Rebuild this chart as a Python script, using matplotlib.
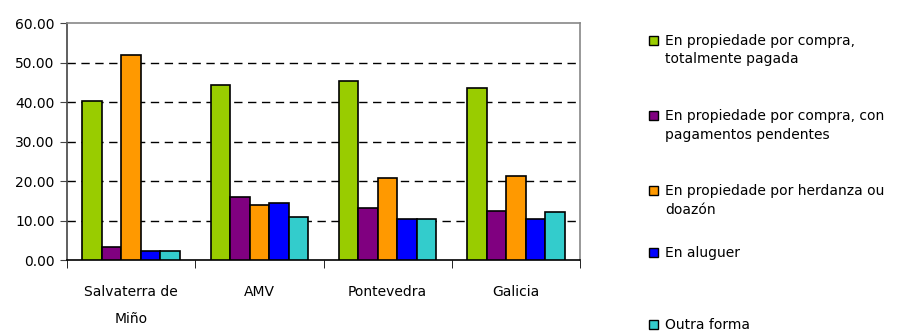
import numpy as np
import matplotlib.pyplot as plt
from matplotlib.patches import Rectangle

categories = ['Salvaterra de\nMiño', 'AMV', 'Pontevedra', 'Galicia']
series = ['En propiedade por compra,\ntotalmente pagada',
          'En propiedade por compra, con\npagamentos pendentes',
          'En propiedade por herdanza ou\ndoazón',
          'En aluguer',
          'Outra forma']
comprada = [40.3, 44.4, 45.2, 43.6]
pendentes = [3.3, 15.9, 13.2, 12.5]
herdanza = [52.0, 13.9, 20.8, 21.3]
aluguer = [2.3, 14.4, 10.5, 10.5]
outra = [2.3, 10.9, 10.5, 12.2]
values = [comprada, pendentes, herdanza, aluguer, outra]
colors = ['#99CC00', '#800080', '#FF9900', '#0000FF', '#33CCCC']

plt.rcParams['font.family'] = 'DejaVu Sans'
fig = plt.figure(figsize=(9.02, 3.31), dpi=100)
ax = fig.add_axes([0.0743, 0.2145, 0.5687, 0.716])

x = np.arange(len(categories))
w = 0.152
for i, vals in enumerate(values):
    ax.bar(x + (i - 2) * w, vals, w, color=colors[i], edgecolor='black', linewidth=1.2, zorder=3)

ax.set_xlim(-0.5, 3.5)
ax.set_ylim(0, 60)
ax.set_yticks(np.arange(0, 61, 10))
ax.set_yticklabels(['%.2f' % v for v in np.arange(0, 61, 10)], fontsize=10)
for v in range(10, 60, 10):
    ax.axhline(v, color='black', linestyle=(0, (6, 4)), linewidth=1, zorder=1)

ax.set_xticks(x)
ax.set_xticklabels(categories, fontsize=10, linespacing=2.15)
ax.tick_params(axis='x', length=0, pad=18)
ax.set_xticks(np.arange(-0.5, 4, 1), minor=True)
ax.tick_params(axis='x', which='minor', length=6, direction='out', color='black')
ax.tick_params(axis='y', length=5, color='#444444', pad=4)

ax.spines['top'].set_color('#888888')
ax.spines['right'].set_color('#888888')
ax.spines['left'].set_color('#444444')
ax.spines['bottom'].set_color('black')
for s in ax.spines.values():
    s.set_linewidth(1.2)

# legend drawn by hand to keep the uneven spacing
W, H = 902, 331
legend_y = [40, 115, 190, 252, 324]
for lab, col, yy in zip(series, colors, legend_y):
    fig.patches.append(Rectangle(((649) / W, 1 - (yy + 4.5) / H), 9 / W, 9 / H,
                                 facecolor=col, edgecolor='black', linewidth=1,
                                 transform=fig.transFigure, figure=fig))
    for j, line in enumerate(lab.split('\n')):
        fig.text(665 / W, 1 - (yy + 5 + j * 18.5) / H, line, fontsize=10,
                 va='baseline', ha='left')

fig.savefig('out.png', dpi=100)
